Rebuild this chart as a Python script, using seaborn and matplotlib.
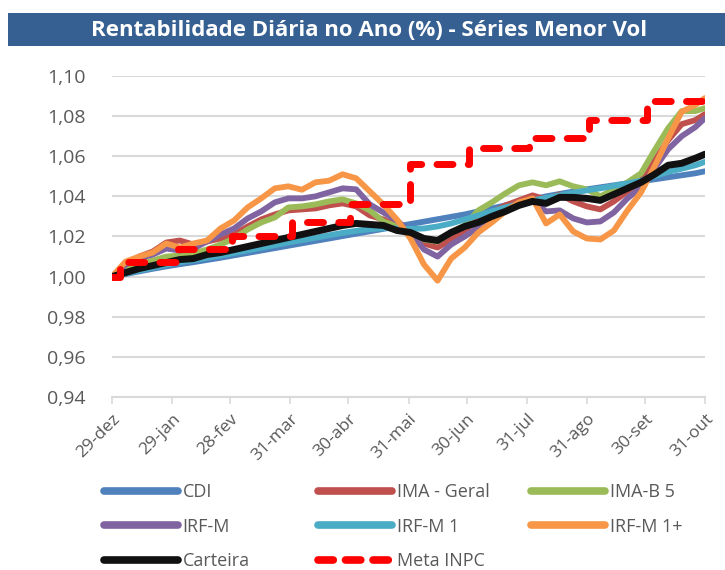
import matplotlib
matplotlib.use("Agg")
import matplotlib.pyplot as plt
from matplotlib.patches import Rectangle
from matplotlib.lines import Line2D
from matplotlib.ticker import FuncFormatter
import pandas as pd
import seaborn as sns

sns.set_theme(style="white")
plt.rcParams['font.family'] = ['Open Sans', 'DejaVu Sans']

# datas semanais (sextas) + ultimo dia
datas = list(pd.date_range('2017-12-29', '2018-10-26', freq='W-FRI')) + [pd.Timestamp('2018-10-31')]

cdi = [1.0000, 1.0013, 1.0026, 1.0039, 1.0051, 1.0062, 1.0072, 1.0083, 1.0094, 1.0106,
       1.0118, 1.0130, 1.0142, 1.0154, 1.0166, 1.0178, 1.0190, 1.0202, 1.0214, 1.0226,
       1.0238, 1.0250, 1.0262, 1.0274, 1.0286, 1.0298, 1.0310, 1.0325, 1.0340, 1.0355,
       1.0370, 1.0385, 1.0400, 1.0412, 1.0424, 1.0435, 1.0445, 1.0455, 1.0465, 1.0475,
       1.0485, 1.0495, 1.0505, 1.0515, 1.0525]
ima_geral = [1.0000, 1.0060, 1.0100, 1.0125, 1.0170, 1.0180, 1.0160, 1.0175, 1.0190, 1.0210,
             1.0250, 1.0285, 1.0310, 1.0330, 1.0335, 1.0340, 1.0355, 1.0365, 1.0350, 1.0305,
             1.0285, 1.0255, 1.0210, 1.0165, 1.0145, 1.0185, 1.0230, 1.0285, 1.0320, 1.0355,
             1.0380, 1.0405, 1.0385, 1.0410, 1.0375, 1.0350, 1.0335, 1.0375, 1.0425, 1.0480,
             1.0580, 1.0680, 1.0760, 1.0780, 1.0810]
ima_b5 = [1.0000, 1.0040, 1.0060, 1.0080, 1.0100, 1.0105, 1.0115, 1.0135, 1.0160, 1.0190,
          1.0235, 1.0270, 1.0295, 1.0345, 1.0350, 1.0360, 1.0375, 1.0385, 1.0365, 1.0330,
          1.0275, 1.0250, 1.0215, 1.0185, 1.0175, 1.0220, 1.0255, 1.0330, 1.0370, 1.0415,
          1.0455, 1.0470, 1.0455, 1.0475, 1.0450, 1.0435, 1.0400, 1.0435, 1.0470, 1.0515,
          1.0630, 1.0740, 1.0825, 1.0825, 1.0840]
irf_m = [1.0000, 1.0060, 1.0090, 1.0110, 1.0140, 1.0130, 1.0140, 1.0175, 1.0210, 1.0240,
         1.0290, 1.0325, 1.0370, 1.0390, 1.0390, 1.0400, 1.0420, 1.0440, 1.0435, 1.0360,
         1.0320, 1.0280, 1.0220, 1.0135, 1.0100, 1.0160, 1.0200, 1.0245, 1.0285, 1.0325,
         1.0360, 1.0380, 1.0325, 1.0330, 1.0290, 1.0270, 1.0275, 1.0320, 1.0390, 1.0445,
         1.0540, 1.0635, 1.0700, 1.0745, 1.0790]
irf_m1 = [1.0000, 1.0015, 1.0030, 1.0045, 1.0060, 1.0072, 1.0082, 1.0094, 1.0105, 1.0118,
          1.0131, 1.0144, 1.0157, 1.0170, 1.0182, 1.0194, 1.0206, 1.0218, 1.0228, 1.0236,
          1.0242, 1.0240, 1.0238, 1.0240, 1.0250, 1.0265, 1.0285, 1.0305, 1.0325, 1.0345,
          1.0362, 1.0380, 1.0392, 1.0405, 1.0418, 1.0430, 1.0440, 1.0452, 1.0465, 1.0478,
          1.0500, 1.0522, 1.0538, 1.0555, 1.0572]
irf_m1_mais = [1.0000, 1.0075, 1.0100, 1.0120, 1.0165, 1.0145, 1.0165, 1.0180, 1.0240, 1.0280,
               1.0345, 1.0390, 1.0440, 1.0450, 1.0433, 1.0470, 1.0478, 1.0510, 1.0490, 1.0425,
               1.0360, 1.0285, 1.0190, 1.0060, 0.9980, 1.0090, 1.0145, 1.0220, 1.0270, 1.0325,
               1.0370, 1.0390, 1.0265, 1.0310, 1.0225, 1.0190, 1.0185, 1.0230, 1.0330, 1.0420,
               1.0550, 1.0690, 1.0822, 1.0855, 1.0890]
carteira = [1.0000, 1.0020, 1.0040, 1.0055, 1.0070, 1.0085, 1.0090, 1.0110, 1.0120, 1.0135,
            1.0150, 1.0165, 1.0180, 1.0195, 1.0210, 1.0225, 1.0240, 1.0255, 1.0265, 1.0260,
            1.0255, 1.0230, 1.0220, 1.0190, 1.0180, 1.0220, 1.0250, 1.0270, 1.0300, 1.0325,
            1.0355, 1.0375, 1.0365, 1.0395, 1.0395, 1.0390, 1.0380, 1.0410, 1.0440, 1.0470,
            1.0510, 1.0555, 1.0565, 1.0590, 1.0610]

# meta INPC: valor mensal (degraus)
meta_datas = pd.to_datetime(['2017-12-29', '2018-01-02', '2018-02-01', '2018-03-01', '2018-04-01',
                             '2018-05-01', '2018-06-01', '2018-07-01', '2018-08-01', '2018-09-01',
                             '2018-10-01', '2018-10-31'])
meta_inpc = [1.0000, 1.0075, 1.0140, 1.0200, 1.0270, 1.0364, 1.0559, 1.0642, 1.0692, 1.0779,
             1.0875, 1.0875]

tick_datas = pd.to_datetime(['2017-12-29', '2018-01-29', '2018-02-28', '2018-03-31', '2018-04-30',
                             '2018-05-31', '2018-06-30', '2018-07-31', '2018-08-31', '2018-09-30',
                             '2018-10-31'])
tick_labels = ['29-dez', '29-jan', '28-fev', '31-mar', '30-abr', '31-mai', '30-jun', '31-jul',
               '31-ago', '30-set', '31-out']

series = [('CDI', cdi, '#4F81BD'),
          ('IMA - Geral', ima_geral, '#C0504D'),
          ('IMA-B 5', ima_b5, '#9BBB59'),
          ('IRF-M', irf_m, '#8064A2'),
          ('IRF-M 1', irf_m1, '#4BACC6'),
          ('IRF-M 1+', irf_m1_mais, '#F79646'),
          ('Carteira', carteira, '#111111')]

fig = plt.figure(figsize=(7.25, 5.7), dpi=100)
ax = fig.add_axes([0.1545, 0.3035, 0.8179, 0.5632])

handles = {}
for nome, vals, cor in series:
    lw = 5.0 if nome == 'Carteira' else 4.2
    sns.lineplot(x=datas, y=vals, ax=ax, color=cor, linewidth=lw,
                 solid_joinstyle='round', solid_capstyle='round')
    handles[nome] = Line2D([], [], color=cor, linewidth=5.5, solid_capstyle='round')

sns.lineplot(x=meta_datas, y=meta_inpc, ax=ax, color='#FF0000', linewidth=5.0,
             drawstyle='steps-post', dashes=False)
ax.lines[-1].set_dashes((2.3, 2.2))
ax.lines[-1].set_dash_capstyle('round')
handles['Meta INPC'] = Line2D([], [], color='#FF0000', linewidth=5.5, linestyle=(0, (2.0, 1.6)),
                              dash_capstyle='round')

ax.set_ylim(0.94, 1.10)
ax.set_yticks([0.94, 0.96, 0.98, 1.00, 1.02, 1.04, 1.06, 1.08, 1.10])
ax.yaxis.set_major_formatter(FuncFormatter(lambda v, p: f"{v:.2f}".replace('.', ',')))
ax.set_xlim(tick_datas[0], tick_datas[-1])
ax.set_xticks(tick_datas)
ax.set_xticklabels(tick_labels, rotation=45, ha='right', rotation_mode='anchor')

ax.grid(axis='y', color='#D9D9D9', linewidth=1.5)
ax.set_axisbelow(True)
for s in ['left', 'right', 'top']:
    ax.spines[s].set_visible(False)
ax.spines['bottom'].set_color('#D9D9D9')
ax.spines['bottom'].set_linewidth(1.5)
ax.tick_params(axis='x', bottom=True, length=5, width=1.2, color='#D9D9D9',
               labelsize=12.5, labelcolor='#595959', pad=5)
ax.tick_params(axis='y', left=False, labelsize=14, labelcolor='#595959', pad=13)
ax.set_xlabel('')
ax.set_ylabel('')

# faixa do titulo
fig.patches.append(Rectangle((8 / 725, 1 - 46 / 570), 1, 33 / 570, transform=fig.transFigure,
                             facecolor='#366092', edgecolor='none'))
fig.text(0.509, 1 - 30 / 570, 'Rentabilidade Diária no Ano (%) - Séries Menor Vol',
         color='white', fontsize=16, fontweight='bold', ha='center', va='center')

# legenda em 3 colunas
colunas = [(['CDI', 'IRF-M', 'Carteira'], 104),
           (['IMA - Geral', 'IRF-M 1', 'Meta INPC'], 318),
           (['IMA-B 5', 'IRF-M 1+'], 531)]
for nomes, xpx in colunas:
    leg = fig.legend([handles[n] for n in nomes], nomes, loc='upper left',
                     bbox_to_anchor=(xpx / 725, 1 - 483 / 570), frameon=False,
                     fontsize=13, handlelength=4.1, handletextpad=0.25,
                     labelspacing=0.92, borderpad=0, borderaxespad=0, labelcolor='#595959')

fig.savefig('out.png', dpi=100)
